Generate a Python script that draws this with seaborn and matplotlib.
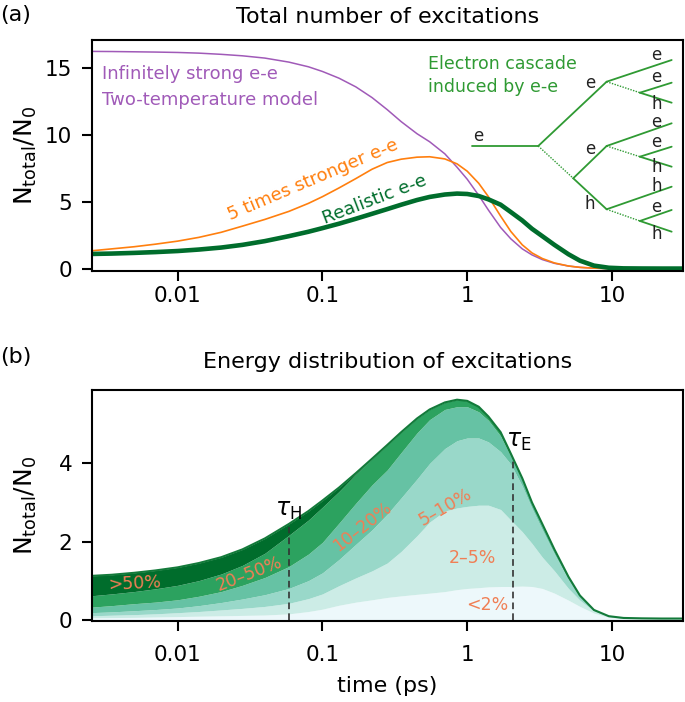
import seaborn as sns
import matplotlib.pyplot as plt
from matplotlib.ticker import NullLocator

# time axis (ps)
time_ps = [0.0025, 0.0035, 0.005, 0.007, 0.01, 0.014, 0.02, 0.028, 0.04, 0.0586,
           0.08, 0.1, 0.13, 0.17, 0.22, 0.28, 0.35, 0.45, 0.55, 0.7,
           0.85, 1.0, 1.2, 1.4, 1.7, 2.0, 2.4, 2.8, 3.3, 4.0,
           5.0, 6.0, 7.5, 9.5, 12, 16, 22, 31]

# panel (a)
n_two_temp = [16.25, 16.24, 16.22, 16.2, 16.17, 16.12, 16.03, 15.92, 15.75, 15.45,
              15.1, 14.75, 14.25, 13.6, 12.8, 11.9, 11.0, 10.1, 9.5, 8.6,
              7.6, 6.7, 5.5, 4.4, 3.1, 2.25, 1.5, 1.05, 0.7, 0.42,
              0.22, 0.12, 0.06, 0.03, 0.02, 0.015, 0.01, 0.01]
n_5x = [1.35, 1.5, 1.66, 1.85, 2.08, 2.36, 2.74, 3.2, 3.7, 4.3,
        4.9, 5.4, 6.05, 6.75, 7.45, 7.95, 8.2, 8.35, 8.38, 8.22,
        7.85, 7.3, 6.4, 5.4, 3.95, 2.8, 1.8, 1.2, 0.78, 0.45,
        0.22, 0.12, 0.06, 0.03, 0.02, 0.015, 0.01, 0.01]
n_realistic = [1.12, 1.15, 1.2, 1.26, 1.34, 1.45, 1.6, 1.8, 2.08, 2.45,
               2.78, 3.05, 3.38, 3.75, 4.12, 4.47, 4.8, 5.15, 5.38, 5.56,
               5.63, 5.6, 5.45, 5.2, 4.8, 4.25, 3.62, 3.0, 2.45, 1.8,
               1.1, 0.62, 0.25, 0.09, 0.045, 0.035, 0.03, 0.03]

# panel (b): cumulative top of each energy band, from the lowest band up
top_lt2 = [0.05, 0.055, 0.06, 0.07, 0.08, 0.09, 0.1, 0.11, 0.12, 0.15,
           0.21, 0.27, 0.37, 0.45, 0.51, 0.57, 0.61, 0.65, 0.68, 0.72,
           0.77, 0.8, 0.82, 0.84, 0.85, 0.85, 0.86, 0.85, 0.8, 0.68,
           0.5, 0.34, 0.17, 0.06, 0.03, 0.025, 0.022, 0.022]
top_2_5 = [0.1, 0.115, 0.13, 0.15, 0.18, 0.21, 0.25, 0.29, 0.34, 0.42,
           0.54, 0.66, 0.87, 1.07, 1.25, 1.45, 1.75, 2.15, 2.5, 2.78,
           2.86, 2.9, 2.93, 2.93, 2.82, 2.55, 2.25, 1.95, 1.6, 1.25,
           0.8, 0.5, 0.22, 0.08, 0.037, 0.03, 0.026, 0.026]
top_5_10 = [0.18, 0.2, 0.23, 0.26, 0.3, 0.36, 0.44, 0.53, 0.64, 0.8,
            1.0, 1.2, 1.54, 1.93, 2.3, 2.7, 3.12, 3.6, 4.0, 4.38,
            4.58, 4.65, 4.65, 4.55, 4.3, 3.98, 3.42, 2.85, 2.3, 1.68,
            1.03, 0.58, 0.24, 0.085, 0.04, 0.032, 0.028, 0.028]
top_10_20 = [0.32, 0.36, 0.41, 0.45, 0.51, 0.6, 0.72, 0.88, 1.08, 1.36,
             1.68, 1.98, 2.47, 2.98, 3.45, 3.83, 4.28, 4.78, 5.12, 5.38,
             5.45, 5.45, 5.32, 5.1, 4.7, 4.18, 3.56, 2.95, 2.4, 1.76,
             1.07, 0.6, 0.25, 0.09, 0.043, 0.034, 0.029, 0.029]
top_20_50 = [0.61, 0.66, 0.72, 0.79, 0.88, 1.0, 1.17, 1.39, 1.7, 2.16,
             2.55, 2.88, 3.28, 3.72, 4.12, 4.47, 4.8, 5.15, 5.38, 5.56,
             5.63, 5.6, 5.45, 5.2, 4.8, 4.25, 3.62, 3.0, 2.45, 1.8,
             1.1, 0.62, 0.25, 0.09, 0.045, 0.035, 0.03, 0.03]
band_labels = ["<2%", "2–5%", "5–10%", "10–20%", "20–50%", ">50%"]
band_colors = ["#edf8fb", "#ccece6", "#99d8c9", "#66c2a4", "#2ca25f", "#006d2c"]

tau_h, tau_h_top = 0.0586, 2.36
tau_e, tau_e_top = 2.07, 4.08

sns.set_theme(style="ticks")
plt.rcParams["font.family"] = ["DejaVu Sans"]
plt.rcParams["mathtext.fontset"] = "dejavusans"
plt.rcParams["axes.linewidth"] = 1.5
for key in ["text.color", "axes.labelcolor", "xtick.color", "ytick.color", "axes.edgecolor"]:
    plt.rcParams[key] = "black"

purple = "#a05ab8"
orange = "#ff7f0e"
dgreen = "#006d2c"
cgreen = "#2f9a33"
salmon = "#f07f55"

fig = plt.figure(figsize=(6.85, 7.02), dpi=100)
ax1 = fig.add_axes([0.134, 0.614, 0.863, 0.329])
ax2 = fig.add_axes([0.134, 0.115, 0.863, 0.329])

# ---- panel (a)
sns.lineplot(x=time_ps, y=n_two_temp, ax=ax1, color=purple, lw=1.1, sort=False)
sns.lineplot(x=time_ps, y=n_5x, ax=ax1, color=orange, lw=1.2, sort=False)
sns.lineplot(x=time_ps, y=n_realistic, ax=ax1, color=dgreen, lw=3.3, sort=False)

ax1.text(0.018, 0.855, "Infinitely strong e-e", transform=ax1.transAxes,
         color=purple, fontsize=13, va="center")
ax1.text(0.018, 0.74, "Two-temperature model", transform=ax1.transAxes,
         color=purple, fontsize=13, va="center")
ax1.text(0.374, 0.394, "5 times stronger e-e", transform=ax1.transAxes,
         color=orange, fontsize=13, rotation=23, ha="center", va="center")
ax1.text(0.479, 0.307, "Realistic e-e", transform=ax1.transAxes,
         color=dgreen, fontsize=13, rotation=21, ha="center", va="center")
ax1.text(0.5685, 0.896, "Electron cascade", transform=ax1.transAxes,
         color=cgreen, fontsize=12.5, va="center")
ax1.text(0.5685, 0.797, "induced by e-e", transform=ax1.transAxes,
         color=cgreen, fontsize=12.5, va="center")

# cascade sketch (axes fraction coordinates)
solid = [((0.6425, 0.5411), (0.7552, 0.5411)),
         ((0.7552, 0.5411), (0.8709, 0.8195)),
         ((0.8709, 0.8195), (0.9809, 0.9134)),
         ((0.9272, 0.7719), (0.9809, 0.8152)),
         ((0.9272, 0.7719), (0.9809, 0.7286)),
         ((0.8144, 0.4013), (0.8709, 0.5411)),
         ((0.8144, 0.4013), (0.8709, 0.2671)),
         ((0.8709, 0.5411), (0.9809, 0.6394)),
         ((0.9272, 0.4948), (0.9809, 0.5381)),
         ((0.9272, 0.4948), (0.9809, 0.4515)),
         ((0.8709, 0.2671), (0.9809, 0.3649)),
         ((0.9272, 0.2165), (0.9809, 0.2641)),
         ((0.9272, 0.2165), (0.9809, 0.1701))]
dotted = [((0.7552, 0.5411), (0.8144, 0.4013)),
          ((0.8709, 0.8195), (0.9272, 0.7719)),
          ((0.8709, 0.5411), (0.9272, 0.4948)),
          ((0.8709, 0.2671), (0.9272, 0.2165))]
for (x0, y0), (x1, y1) in solid:
    ax1.plot([x0, x1], [y0, y1], transform=ax1.transAxes, color=cgreen, lw=1.3)
for (x0, y0), (x1, y1) in dotted:
    ax1.plot([x0, x1], [y0, y1], transform=ax1.transAxes, color=cgreen, lw=1.0, ls=(0, (1, 1)))
letters = [(0.653, 0.585, "e"), (0.8426, 0.816, "e"), (0.8426, 0.528, "e"), (0.8426, 0.29, "h"),
           (0.955, 0.935, "e"), (0.955, 0.838, "e"), (0.955, 0.722, "h"),
           (0.955, 0.643, "e"), (0.955, 0.557, "e"), (0.955, 0.449, "h"),
           (0.955, 0.368, "h"), (0.955, 0.275, "e"), (0.955, 0.158, "h")]
for x, y, s in letters:
    ax1.text(x, y, s, transform=ax1.transAxes, fontsize=12, ha="center", va="center", color="#222222")

ax1.set_ylim(-0.15, 17.1)
ax1.set_yticks([0, 5, 10, 15])
ax1.set_title("Total number of excitations", fontsize=16, pad=12)

# ---- panel (b)
stack = [[0] * len(time_ps), top_lt2, top_2_5, top_5_10, top_10_20, top_20_50, n_realistic]
for i, col in enumerate(band_colors):
    ax2.fill_between(time_ps, stack[i], stack[i + 1], color=col, lw=0)
sns.lineplot(x=time_ps, y=n_realistic, ax=ax2, color="#137a3a", lw=1.5, sort=False)

ax2.plot([tau_h, tau_h], [0, tau_h_top], color="#333333", lw=1.2, ls=(0, (4, 2.5)))
ax2.plot([tau_e, tau_e], [0, tau_e_top], color="#333333", lw=1.2, ls=(0, (4, 2.5)))
ax2.text(tau_h, tau_h_top + 0.45, r"$\tau_\mathrm{H}$", fontsize=17, ha="center", va="center")
ax2.text(tau_e * 1.1, tau_e_top + 0.5, r"$\tau_\mathrm{E}$", fontsize=17, ha="center", va="center")

band_text = [(0.669, 0.069, 0), (0.644, 0.273, 0), (0.599, 0.494, 30),
             (0.458, 0.411, 38), (0.267, 0.203, 21), (0.072, 0.165, 3)]
for lab, (x, y, rot) in zip(band_labels, band_text):
    ax2.text(x, y, lab, transform=ax2.transAxes, color=salmon, fontsize=12.5,
             rotation=rot, ha="center", va="center")

ax2.set_ylim(-0.04, 5.87)
ax2.set_yticks([0, 2, 4])
ax2.set_title("Energy distribution of excitations", fontsize=16, pad=16)
ax2.set_xlabel("time (ps)", fontsize=16, labelpad=8)

for ax in (ax1, ax2):
    ax.set_xscale("log")
    ax.set_xlim(0.00255, 30.9)
    ax.set_xticks([0.01, 0.1, 1, 10])
    ax.set_xticklabels(["0.01", "0.1", "1", "10"])
    ax.xaxis.set_minor_locator(NullLocator())
    ax.tick_params(axis="both", labelsize=15.5, length=7, width=1.5)
    ax.tick_params(axis="y", pad=7)
    ax.set_ylabel(r"N$_\mathrm{total}$/N$_0$", fontsize=18)
    ax.yaxis.set_label_coords(-0.09, 0.5)
    for sp in ax.spines.values():
        sp.set_visible(True)
ax1.tick_params(axis="x", pad=4)
ax2.tick_params(axis="x", pad=10)

fig.text(0.0, 0.979, "(a)", fontsize=16, va="center")
fig.text(0.0, 0.491, "(b)", fontsize=16, va="center")

fig.savefig("out.png", dpi=100)
